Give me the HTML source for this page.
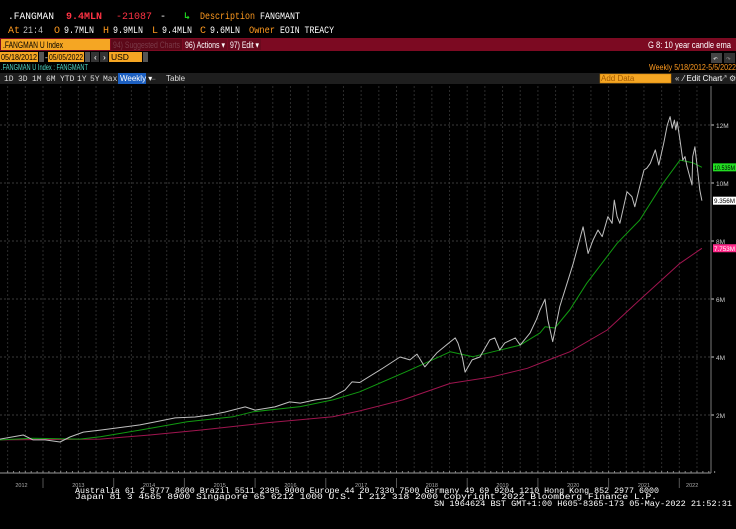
<!DOCTYPE html>
<html><head><meta charset="utf-8">
<style>
html,body{margin:0;padding:0;background:#000;}
svg{display:block;}
text{font-family:"Liberation Mono","DejaVu Sans Mono",monospace;}
.s{font-family:"Liberation Sans","DejaVu Sans",sans-serif;}
</style></head>
<body>
<svg id="root" width="736" height="529" viewBox="0 0 736 529">
  <rect width="736" height="529" fill="#000"/>
  <g font-size="10">
    <text x="8" y="19" fill="#fff" textLength="46" lengthAdjust="spacingAndGlyphs">.FANGMAN</text>
    <text x="66" y="19" fill="#ff3344" font-weight="bold" textLength="36" lengthAdjust="spacingAndGlyphs">9.4MLN</text>
    <text x="116" y="19" fill="#ff3344" textLength="36" lengthAdjust="spacingAndGlyphs">-21087</text>
    <text x="160" y="19" fill="#fff">-</text>
    <text x="184" y="19" fill="#1fd31f" font-weight="bold">↳</text>
    <text x="200" y="19" fill="#ff9a1f" textLength="55" lengthAdjust="spacingAndGlyphs">Description</text>
    <text x="260" y="19" fill="#fff" textLength="40" lengthAdjust="spacingAndGlyphs">FANGMANT</text>
    <text x="8" y="33" fill="#ff9a1f" textLength="12" lengthAdjust="spacingAndGlyphs">At</text>
    <text x="23" y="33" fill="#bbb" textLength="20" lengthAdjust="spacingAndGlyphs">21:4</text>
    <text x="54" y="33" fill="#ff9a1f">O</text>
    <text x="64" y="33" fill="#fff" textLength="30" lengthAdjust="spacingAndGlyphs">9.7MLN</text>
    <text x="103" y="33" fill="#ff9a1f">H</text>
    <text x="113" y="33" fill="#fff" textLength="30" lengthAdjust="spacingAndGlyphs">9.9MLN</text>
    <text x="152" y="33" fill="#ff9a1f">L</text>
    <text x="162" y="33" fill="#fff" textLength="30" lengthAdjust="spacingAndGlyphs">9.4MLN</text>
    <text x="200" y="33" fill="#ff9a1f">C</text>
    <text x="210" y="33" fill="#fff" textLength="30" lengthAdjust="spacingAndGlyphs">9.6MLN</text>
    <text x="249" y="33" fill="#ff9a1f" textLength="26" lengthAdjust="spacingAndGlyphs">Owner</text>
    <text x="280" y="33" fill="#fff" textLength="54" lengthAdjust="spacingAndGlyphs">EOIN TREACY</text>
  </g>
  <rect x="0" y="38" width="736" height="13" fill="#7c0a22"/>
  <rect x="1" y="39" width="109" height="11" fill="#f5a623"/>
  <text x="3" y="48" class="s" font-size="9" fill="#000" textLength="60" lengthAdjust="spacingAndGlyphs">.FANGMAN U Index</text>
  <rect x="111" y="39" width="71" height="11" fill="#5c0818"/>
  <text x="113" y="48" class="s" font-size="9" fill="#7a3a48" textLength="67" lengthAdjust="spacingAndGlyphs">94) Suggested Charts</text>
  <rect x="183" y="39" width="44" height="11" fill="#6a0a1e"/>
  <text x="185" y="48" class="s" font-size="9" fill="#fff" textLength="40" lengthAdjust="spacingAndGlyphs">96) Actions ▾</text>
  <rect x="228" y="39" width="33" height="11" fill="#6a0a1e"/>
  <text x="230" y="48" class="s" font-size="9" fill="#fff" textLength="29" lengthAdjust="spacingAndGlyphs">97) Edit ▾</text>
  <text x="731" y="48" class="s" font-size="9.5" fill="#fff" text-anchor="end" textLength="83" lengthAdjust="spacingAndGlyphs">G 8: 10 year candle ema</text>
  <rect x="0" y="52" width="38" height="10" fill="#f5a623"/>
  <text x="1" y="60" class="s" font-size="8.5" fill="#000" textLength="36" lengthAdjust="spacingAndGlyphs">05/18/2012</text>
  <rect x="39" y="52" width="5" height="10" fill="#555"/>
  <text x="44" y="60" fill="#fff" font-size="8">-</text>
  <rect x="48" y="52" width="36" height="10" fill="#f5a623"/>
  <text x="49" y="60" class="s" font-size="8.5" fill="#000" textLength="34" lengthAdjust="spacingAndGlyphs">05/05/2022</text>
  <rect x="85" y="52" width="5" height="10" fill="#555"/>
  <rect x="91" y="52" width="8" height="10" fill="#333"/>
  <text x="93" y="60" font-size="8" fill="#fff">‹</text>
  <rect x="100" y="52" width="8" height="10" fill="#333"/>
  <text x="102" y="60" font-size="8" fill="#fff">›</text>
  <rect x="109" y="52" width="33" height="10" fill="#f5a623"/>
  <text x="111" y="60" class="s" font-size="8.5" fill="#000">USD</text>
  <rect x="143" y="52" width="5" height="10" fill="#555"/>
  <rect x="711" y="53" width="11" height="10" fill="#444"/>
  <text x="713" y="61" font-size="8" fill="#ddd">↶</text>
  <rect x="724" y="53" width="11" height="10" fill="#333"/>
  <text x="726" y="61" font-size="8" fill="#888">↷</text>
  <text x="1" y="70" class="s" font-size="8.5" fill="#4fd6c4" textLength="87" lengthAdjust="spacingAndGlyphs">.FANGMAN U Index : FANGMANT</text>
  <text x="736" y="70" class="s" font-size="8.5" fill="#ff9a1f" text-anchor="end" textLength="87" lengthAdjust="spacingAndGlyphs">Weekly  5/18/2012-5/5/2022</text>
  <rect x="0" y="73" width="736" height="11" fill="#1e1e1e"/>
  <g class="s" font-size="8" fill="#ddd">
    <text x="4" y="81">1D</text>
    <text x="18" y="81">3D</text>
    <text x="32" y="81">1M</text>
    <text x="46" y="81">6M</text>
    <text x="60" y="81">YTD</text>
    <text x="77" y="81">1Y</text>
    <text x="90" y="81">5Y</text>
    <text x="103" y="81">Max</text>
  </g>
  <rect x="118" y="73" width="28" height="11" fill="#1c5fc0"/>
  <text x="120" y="81" class="s" font-size="8" fill="#fff">Weekly ▾</text>
  <text x="151" y="81" font-size="8" fill="#777">⌙</text>
  <text x="166" y="81" class="s" font-size="8" fill="#ddd">Table</text>
  <rect x="600" y="74" width="71" height="9" fill="#f5a623" stroke="#c77a00" stroke-width="0.5"/>
  <text x="601" y="81" class="s" font-size="8" fill="#a35a00">Add Data</text>
  <text x="675" y="81" class="s" font-size="8" fill="#ddd">«</text>
  <text x="683" y="81" class="s" font-size="8" fill="#fff">⁄ Edit Chart</text>
  <text x="720" y="81" class="s" font-size="8" fill="#ddd">⤢</text>
  <text x="729" y="81" class="s" font-size="8" fill="#ddd">⚙</text>

  <g id="chart"></g>

  <g font-size="8.5" fill="#fff">
    <text x="75" y="493" textLength="584" lengthAdjust="spacingAndGlyphs">Australia 61 2 9777 8600 Brazil 5511 2395 9000 Europe 44 20 7330 7500 Germany 49 69 9204 1210 Hong Kong 852 2977 6000</text>
    <text x="75" y="499" textLength="582" lengthAdjust="spacingAndGlyphs">Japan 81 3 4565 8900      Singapore 65 6212 1000      U.S. 1 212 318 2000        Copyright 2022 Bloomberg Finance L.P.</text>
    <text x="434" y="506" textLength="298" lengthAdjust="spacingAndGlyphs">SN 1964624 BST  GMT+1:00 H605-8365-173 05-May-2022 21:52:31</text>
  </g>
</svg>
<script>
const priceDates = [2012.39,2012.72,2012.86,2013.03,2013.24,2013.38,2013.57,2013.81,2014.16,2014.37,2014.58,2014.87,2015.15,2015.36,2015.57,2015.86,2016.00,2016.28,2016.49,2016.64,2016.85,2017.06,2017.27,2017.37,2017.48,2017.81,2018.05,2018.19,2018.29,2018.40,2018.57,2018.76,2018.83,2018.87,2018.93,2018.97,2019.07,2019.18,2019.32,2019.39,2019.46,2019.53,2019.68,2019.75,2019.89,2019.98,2020.03,2020.10,2020.14,2020.21,2020.31,2020.50,2020.64,2020.71,2020.78,2020.85,2020.91,2020.99,2021.05,2021.08,2021.12,2021.16,2021.26,2021.33,2021.37,2021.44,2021.50,2021.54,2021.59,2021.66,2021.71,2021.78,2021.83,2021.87,2021.90,2021.93,2021.95,2021.97,2022.01,2022.05,2022.08,2022.11,2022.18,2022.19,2022.22,2022.25,2022.29,2022.32];
const priceValues = [1.17,1.31,1.14,1.14,1.07,1.24,1.41,1.48,1.59,1.66,1.76,1.90,1.93,2.00,2.10,2.28,2.17,2.28,2.45,2.41,2.52,2.59,2.86,3.14,3.12,3.62,4.00,3.90,4.10,3.66,4.14,4.52,4.66,4.48,4.00,3.48,3.90,4.00,4.59,4.66,4.24,4.48,4.66,4.41,4.83,5.30,5.62,5.99,5.28,4.53,5.74,7.23,8.49,7.57,8.03,8.38,8.15,8.84,8.61,9.41,8.84,8.61,9.70,9.53,9.18,9.87,10.45,10.51,10.68,11.14,10.62,11.37,12.00,12.29,11.89,12.17,11.83,12.11,11.48,10.79,10.91,10.56,9.93,10.91,11.25,10.62,9.76,9.39];
const emaShortDates = [2012.39,2012.86,2013.52,2013.81,2014.37,2015.04,2015.69,2015.97,2016.64,2017.10,2017.48,2018.19,2018.76,2019.08,2019.36,2019.75,2020.03,2020.10,2020.24,2020.45,2020.69,2021.12,2021.44,2021.77,2022.01,2022.19,2022.32];
const emaShortValues = [1.14,1.20,1.17,1.25,1.48,1.77,1.94,2.11,2.29,2.52,2.80,3.55,4.18,4.01,4.18,4.41,4.83,5.04,5.00,5.62,6.54,7.92,8.72,9.99,10.79,10.70,10.54];
const emaLongDates = [2012.39,2013.81,2014.51,2015.22,2016.17,2017.10,2017.48,2018.09,2018.76,2019.36,2019.85,2020.21,2020.45,2020.98,2021.44,2022.01,2022.32];
const emaLongValues = [1.14,1.17,1.31,1.48,1.73,1.94,2.14,2.52,3.09,3.32,3.61,3.95,4.18,4.93,5.97,7.23,7.75];
const yTicks = [2,4,6,8,10,12];
const yTickLabels = ["2M","4M","6M","8M","10M","12M"];
const yearLabels = ["2012","2013","2014","2015","2016","2017","2018","2019","2020","2021","2022"];
const lastLabels = ["10.535M","9.356M","7.753M"];

const NS = "http://www.w3.org/2000/svg";
const g = document.getElementById("chart");
const X = d => 43 + (d - 2013) * 70.7;
const Y = v => 473 - v * 29;
function mk(tag, attrs, parent) {
  const e = document.createElementNS(NS, tag);
  for (const k in attrs) e.setAttribute(k, attrs[k]);
  (parent || g).appendChild(e);
  return e;
}
for (let q = 2012.25; q < 2022.5; q += 0.25) {
  const l = mk("line", {x1: X(q), x2: X(q), y1: 86, y2: 473, stroke: "#2c2c2c", "stroke-width": 1, "stroke-dasharray": "2,2"});
  
  
}
yTicks.forEach((v, i) => {
  const l = mk("line", {x1: 0, x2: 711, y1: Y(v), y2: Y(v), stroke: "#3a3a3a", "stroke-width": 1, "stroke-dasharray": "2,2"});
  
  
  mk("line", {x1: 711, x2: 714, y1: Y(v), y2: Y(v), stroke: "#ccc"});
  const t = mk("text", {x: 716, y: Y(v) + 3, fill: "#ccc", "font-size": 6.5, class: "s"});
  t.textContent = yTickLabels[i];
  
  
});
const ax = mk("line", {x1: 0, x2: 711, y1: 473, y2: 473, stroke: "#999"});


const ay = mk("line", {x1: 711, x2: 711, y1: 86, y2: 473, stroke: "#777"});


for (let q = 2012.5; q < 2022.5; q += 1/12) mk("line", {x1: X(q), x2: X(q), y1: 471, y2: 473, stroke: "#888"});
yearLabels.forEach((s, i) => {
  const yr = 2012 + i;
  const start = Math.max(X(yr), 0), end = Math.min(X(yr + 1), 705);
  if (i > 0) mk("line", {x1: X(yr), x2: X(yr), y1: 478, y2: 488, stroke: "#555"});
  const t = mk("text", {x: (start + end) / 2, y: 487, fill: "#aaa", "font-size": 5.5, "text-anchor": "middle", class: "s"});
  t.textContent = s;
  
  
});
function series(dates, vals, color, name, w) {
  const d = dates.map((t, i) => (i ? "L" : "M") + X(t).toFixed(1) + "," + Y(vals[i]).toFixed(1)).join("");
  const p = mk("path", {d: d, fill: "none", stroke: color, "stroke-width": w, "stroke-linejoin": "round"});
  
  
}
series(emaLongDates, emaLongValues, "#a0154f", "long-ema-line", 1);
series(emaShortDates, emaShortValues, "#119a11", "short-ema-line", 1);
series(priceDates, priceValues, "#c0c0c0", "price-line", 1);
const tags = [
  [emaShortValues[emaShortValues.length - 1], "#22dd22", "#000", lastLabels[0], "short-ema-last-value"],
  [priceValues[priceValues.length - 1], "#fff", "#000", lastLabels[1], "price-last-value"],
  [emaLongValues[emaLongValues.length - 1], "#ff2a8a", "#fff", lastLabels[2], "long-ema-last-value"]
];
tags.forEach(tg => {
  const y = Y(tg[0]);
  const r = mk("rect", {x: 713, y: y - 4, width: 23, height: 8, fill: tg[1]});
  
  
  const t = mk("text", {x: 714, y: y + 2.5, fill: tg[2], "font-size": 6, class: "s", textLength: 21, lengthAdjust: "spacingAndGlyphs"});
  t.textContent = tg[3];
  
  
});
</script>
</body></html>
